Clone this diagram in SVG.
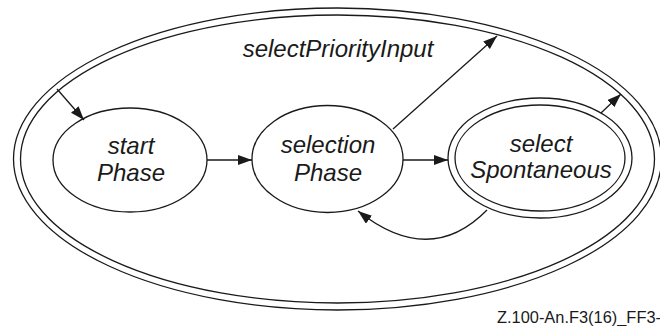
<svg xmlns="http://www.w3.org/2000/svg" width="660" height="326" viewBox="0 0 660 326">
<style>
.s{fill:none;stroke:#1a1a1a;stroke-width:1.3}
.n{fill:#fff;stroke:#1a1a1a;stroke-width:1.3}
.t{font-family:"Liberation Sans",Arial,sans-serif;font-style:italic;font-size:24px;fill:#1a1a1a;text-anchor:middle}
.f{font-family:"Liberation Sans",Arial,sans-serif;font-size:16.4px;fill:#1a1a1a}
.c{fill:none;stroke:#1a1a1a;stroke-width:1.3;marker-end:url(#ah)}
</style>
<defs>
<marker id="ah" markerUnits="userSpaceOnUse" markerWidth="15" markerHeight="11" refX="14" refY="5" orient="auto">
<path d="M0,0 L14,5 L0,10 z" fill="#1a1a1a"/>
</marker>
</defs>
<rect width="660" height="326" fill="#fff"/>
<g id="selectPriorityInput">
<ellipse class="s" cx="337.5" cy="159" rx="324" ry="151"/>
<ellipse class="s" cx="337.5" cy="159" rx="317" ry="144"/>
<text class="t" x="338" y="57">selectPriorityInput</text>
</g>
<g id="startPhase">
<ellipse class="n" cx="130" cy="160" rx="77" ry="52"/>
<text class="t" x="131" y="154">start</text>
<text class="t" x="131" y="181">Phase</text>
</g>
<g id="selectionPhase">
<ellipse class="n" cx="327.5" cy="159" rx="75.5" ry="53.5"/>
<text class="t" x="328" y="153">selection</text>
<text class="t" x="328" y="181">Phase</text>
</g>
<g id="selectSpontaneous">
<ellipse class="n" cx="540" cy="158" rx="92" ry="60"/>
<ellipse class="s" cx="540" cy="158" rx="85" ry="53"/>
<text class="t" x="541" y="152">select</text>
<text class="t" x="541" y="178">Spontaneous</text>
</g>
<g id="connectors">
<line class="c" x1="57" y1="89" x2="84" y2="120"/>
<line class="c" x1="207" y1="160" x2="252" y2="160"/>
<line class="c" x1="403" y1="160" x2="448" y2="160"/>
<line class="c" x1="393" y1="129" x2="497" y2="36"/>
<line class="c" x1="601" y1="113" x2="621" y2="94"/>
<path class="c" d="M487,210 Q430,268 358,211"/>
</g>
<text class="f" x="497" y="323">Z.100-An.F3(16)_FF3-8</text>
</svg>
